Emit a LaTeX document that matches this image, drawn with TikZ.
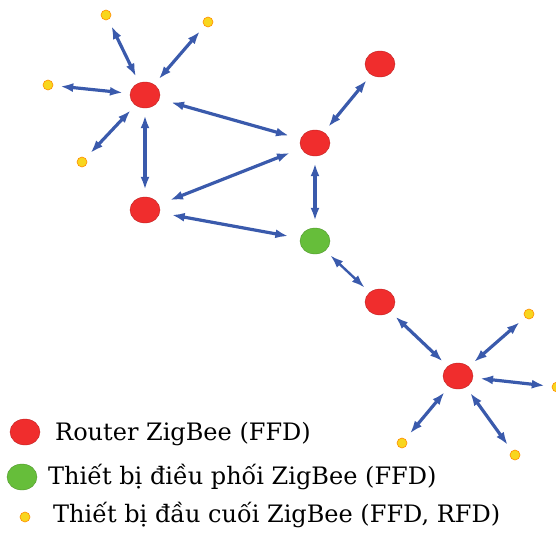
\documentclass[tikz,border=0pt]{standalone}
\usepackage{fontspec}
\setmainfont{DejaVu Serif}
\usetikzlibrary{arrows.meta,shapes.geometric}

\definecolor{routerred}{RGB}{240,45,45}
\definecolor{coordgreen}{RGB}{102,190,58}
\definecolor{enddevyellow}{RGB}{248,214,30}
\definecolor{linkblue}{RGB}{58,90,172}

\tikzset{
  router/.style={ellipse, fill=routerred, draw=routerred!80!black, line width=0.4pt, minimum width=30pt, minimum height=26pt, inner sep=0pt},
  coordinator/.style={router, fill=coordgreen, draw=coordgreen!80!black},
  enddev/.style={circle, fill=enddevyellow, draw=orange!90!yellow, line width=0.6pt, minimum size=10pt, inner sep=0pt},
  link/.style={linkblue, line width=3.2pt, {Latex[length=13pt,width=9pt]}-{Latex[length=13pt,width=9pt]}, shorten <=7pt, shorten >=7pt},
  legendtext/.style={anchor=base west, inner sep=0pt, font=\fontsize{24}{28}\selectfont}
}

\begin{document}
\begin{tikzpicture}[x=1pt, y=-1pt]
      \useasboundingbox (0,0) rectangle (556,533);

      % draw the routers and the coordinator
      \node[router] (r1) at (145,95) {};
      \node[router] (r2) at (145,210) {};
      \node[router] (r3) at (315,143) {};
      \node[router] (r4) at (380,64) {};
      \node[coordinator] (c) at (315,241) {};
      \node[router] (r5) at (380,302) {};
      \node[router] (r6) at (458,376) {};

      % draw the end devices
      \node[enddev] (e1) at (106,15) {};
      \node[enddev] (e2) at (208,22) {};
      \node[enddev] (e3) at (48,85) {};
      \node[enddev] (e4) at (82,162) {};
      \node[enddev] (e5) at (529,314) {};
      \node[enddev] (e6) at (557,387) {};
      \node[enddev] (e7) at (402,443) {};
      \node[enddev] (e8) at (515,455) {};

      % draw the links between the nodes
      \draw[link] (r1) -- (r2);
      \draw[link, shorten <=12pt, shorten >=12pt] (r1) -- (r3);
      \draw[link, shorten <=12pt, shorten >=12pt] (r2) -- (r3);
      \draw[link, shorten <=12pt, shorten >=12pt] (r2) -- (c);
      \draw[link] (r3) -- (c);
      \draw[link] (r4) -- (r3);
      \draw[link, line width=2.4pt] (c) -- (r5);
      \draw[link] (r5) -- (r6);
      \draw[link] (r1) -- (e1);
      \draw[link] (r1) -- (e2);
      \draw[link] (r1) -- (e3);
      \draw[link] (r1) -- (e4);
      \draw[link] (r6) -- (e5);
      \draw[link] (r6) -- (e6);
      \draw[link] (r6) -- (e7);
      \draw[link] (r6) -- (e8);

      % draw the legend
      \node[router] (lr) at (25,432) {};
      \node[coordinator] (lc) at (22,477) {};
      \node[enddev] (le) at (25,517) {};
      \node[legendtext] (lrtext) at (55,440) {Router ZigBee (FFD)};
      \node[legendtext] (lctext) at (48,484) {Thiết bị điều phối ZigBee (FFD)};
      \node[legendtext] (letext) at (53,522) {Thiết bị đầu cuối ZigBee (FFD, RFD)};
\end{tikzpicture}
\end{document}
